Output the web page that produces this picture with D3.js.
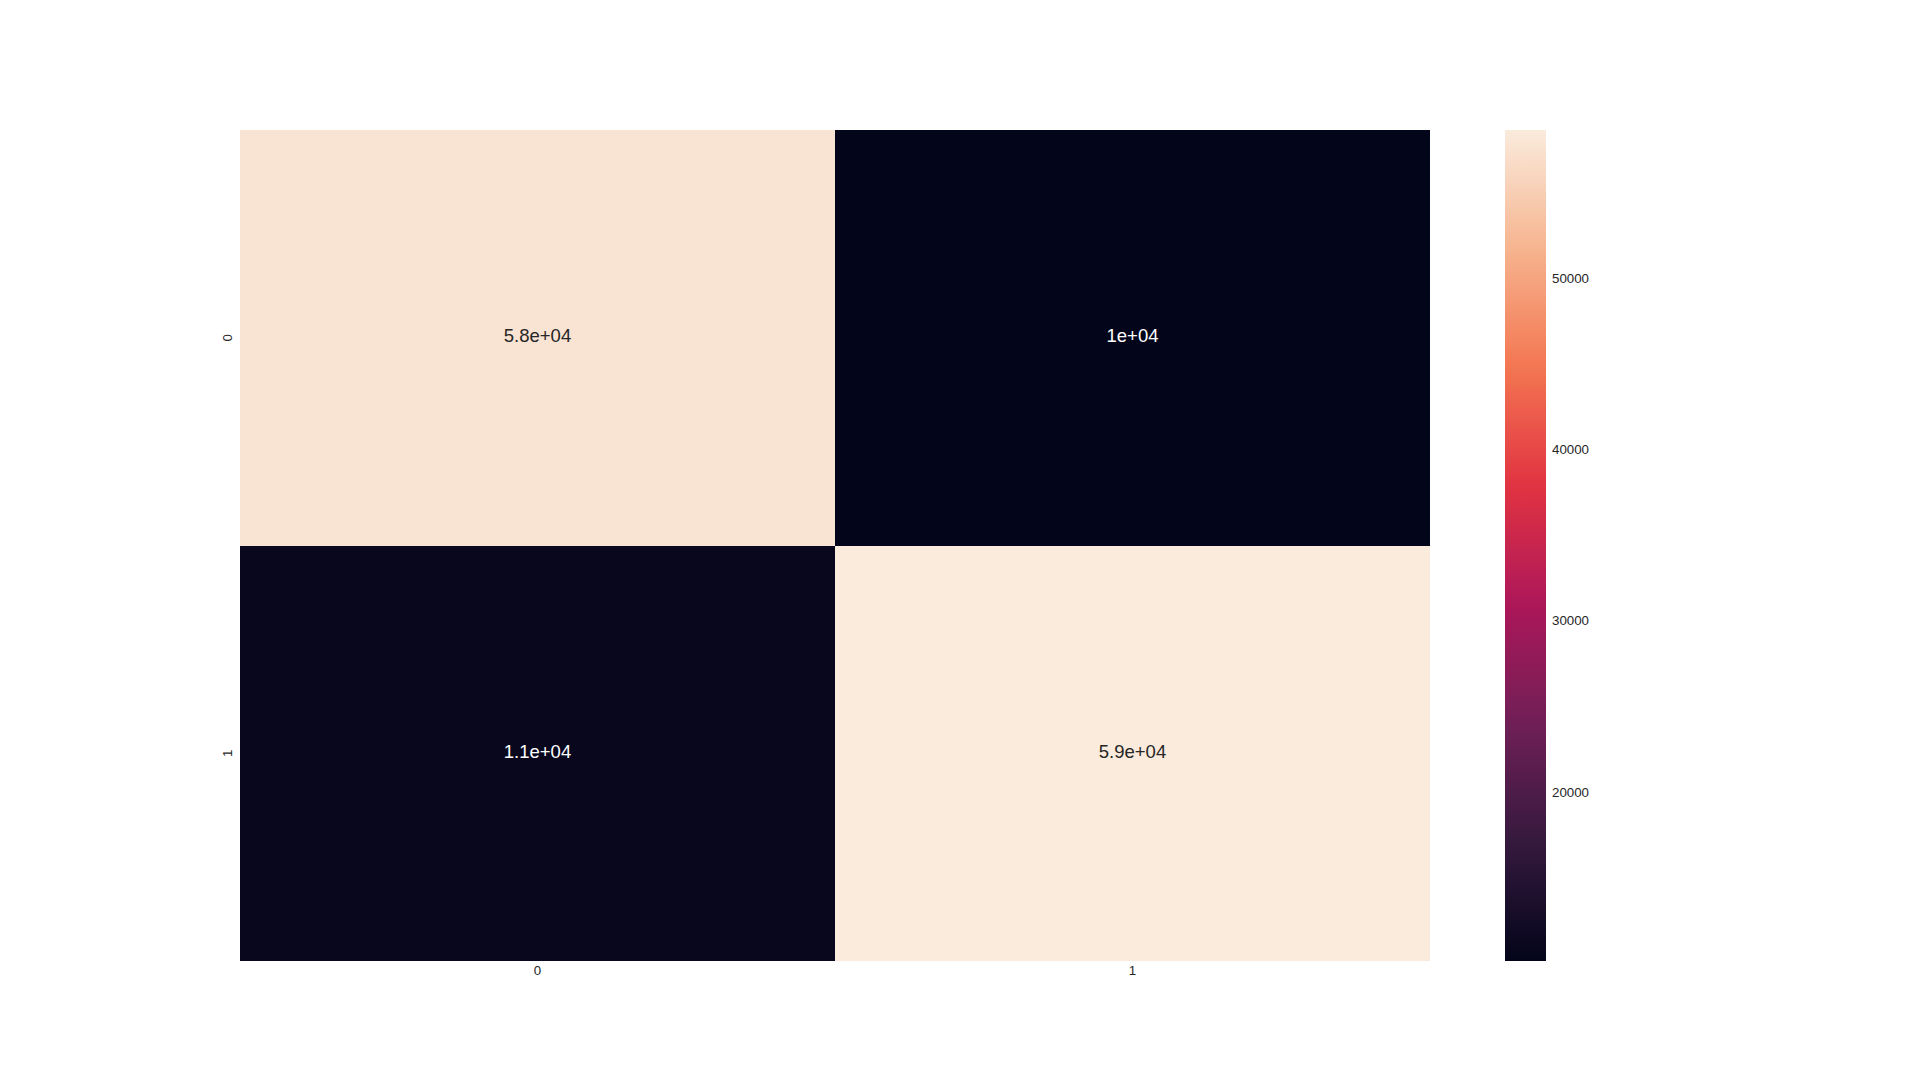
<!DOCTYPE html>
<html>
<head>
<meta charset="utf-8">
<script src="https://cdn.jsdelivr.net/npm/d3@7"></script>
<style>
html,body{margin:0;padding:0;background:#fff;}
svg{display:block;font-family:"Liberation Sans",Arial,sans-serif;}
</style>
</head>
<body>
<svg id="chart" width="1920" height="1080"></svg>
<script>
const rows = ["0", "1"];
const cols = ["0", "1"];
const values = [
  [57700, 10200],
  [10900, 58700]
];
const labels = [
  ["5.8e+04", "1e+04"],
  ["1.1e+04", "5.9e+04"]
];
const colorbarTicks = [20000, 30000, 40000, 50000];
// rocket colormap stops
const rocketStops = ["#03051a", "#35193e", "#701f57", "#ad1759", "#e13342", "#f37651", "#f6b48f", "#faebdd"];

const svg = d3.select("#chart");
const margin = {left: 240, top: 130, right: 1430, bottom: 961};

const x = d3.scaleBand().domain(cols).range([margin.left, margin.right]).padding(0);
const y = d3.scaleBand().domain(rows).range([margin.top, margin.bottom]).padding(0);

const flat = [];
values.forEach((r, i) => r.forEach((v, j) => flat.push({row: rows[i], col: cols[j], v, label: labels[i][j]})));
const vmin = d3.min(flat, d => d.v), vmax = d3.max(flat, d => d.v);
const interp = d3.piecewise(d3.interpolateRgb, rocketStops);
const color = d3.scaleSequential(interp).domain([vmin, vmax]);

svg.append("g").selectAll("rect").data(flat).join("rect")
  .attr("x", d => x(d.col)).attr("y", d => y(d.row))
  .attr("width", x.bandwidth()).attr("height", y.bandwidth())
  .attr("fill", d => color(d.v))
  .attr("shape-rendering", "crispEdges");

svg.append("g").selectAll("text").data(flat).join("text")
  .attr("x", d => x(d.col) + x.bandwidth() / 2)
  .attr("y", d => y(d.row) + y.bandwidth() / 2 - 2)
  .attr("text-anchor", "middle").attr("dominant-baseline", "central")
  .attr("font-size", "18.5px")
  .attr("fill", d => (d.v - vmin) / (vmax - vmin) > 0.5 ? "#262626" : "#ffffff")
  .text(d => d.label);

// x axis labels
svg.append("g").selectAll("text").data(cols).join("text")
  .attr("x", d => x(d) + x.bandwidth() / 2).attr("y", margin.bottom + 9)
  .attr("text-anchor", "middle").attr("dominant-baseline", "central")
  .attr("font-size", "13.3px").attr("fill", "#262626").text(d => d);

// y axis labels (rotated)
svg.append("g").selectAll("text").data(rows).join("text")
  .attr("transform", d => `translate(${margin.left - 13},${y(d) + y.bandwidth() / 2}) rotate(-90)`)
  .attr("text-anchor", "middle").attr("dominant-baseline", "central")
  .attr("font-size", "13.3px").attr("fill", "#262626").text(d => d);

// colorbar
const cb = {x: 1505, w: 41};
const cy = d3.scaleLinear().domain([vmin, vmax]).range([margin.bottom, margin.top]);
const defs = svg.append("defs");
const grad = defs.append("linearGradient").attr("id", "cbgrad")
  .attr("x1", 0).attr("y1", 1).attr("x2", 0).attr("y2", 0);
d3.range(0, 1.0001, 1 / 64).forEach(t => {
  grad.append("stop").attr("offset", t).attr("stop-color", color(vmin + t * (vmax - vmin)));
});
svg.append("rect").attr("x", cb.x).attr("y", margin.top)
  .attr("width", cb.w).attr("height", margin.bottom - margin.top)
  .attr("fill", "url(#cbgrad)");

svg.append("g").selectAll("text").data(colorbarTicks).join("text")
  .attr("x", cb.x + cb.w + 6).attr("y", d => cy(d) - 1)
  .attr("dominant-baseline", "central")
  .attr("font-size", "13.3px").attr("fill", "#262626")
  .text(d => d);
</script>
</body>
</html>
